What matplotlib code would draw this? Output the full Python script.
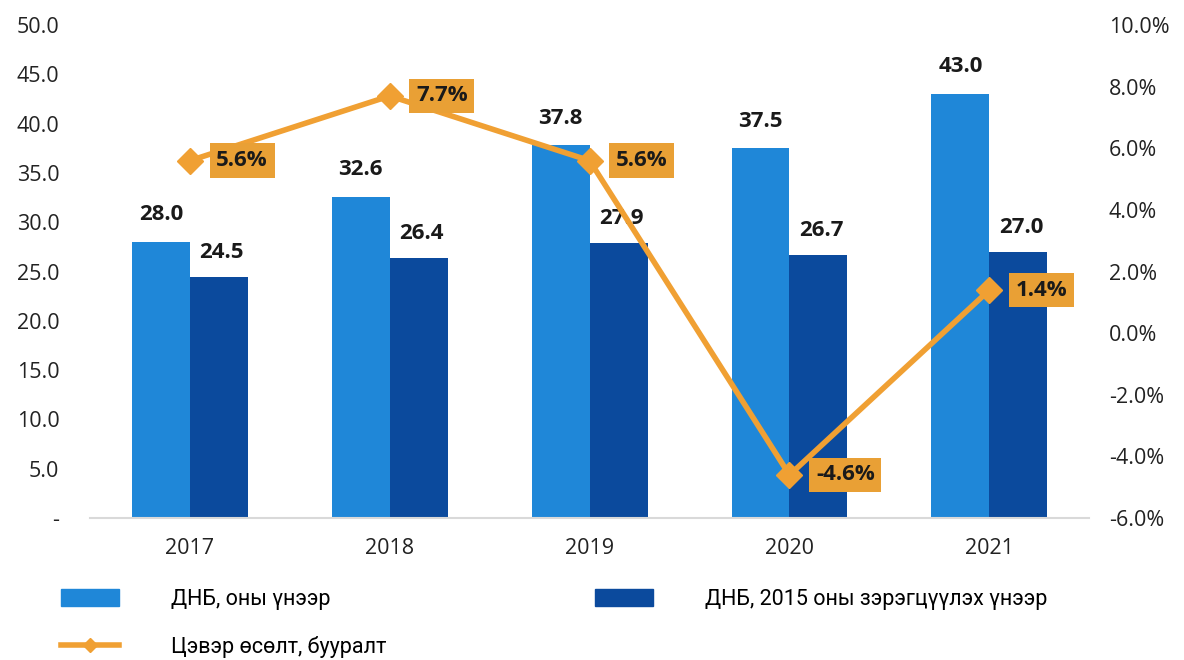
import matplotlib
matplotlib.use("Agg")
import matplotlib.pyplot as plt
from matplotlib.patches import Patch
from matplotlib.lines import Line2D
import numpy as np

years = ["2017", "2018", "2019", "2020", "2021"]
gdp_nominal = [28.0, 32.6, 37.8, 37.5, 43.0]
gdp_real = [24.5, 26.4, 27.9, 26.7, 27.0]
growth = [5.6, 7.7, 5.6, -4.6, 1.4]

light_blue = "#1f87d8"
dark_blue = "#0b4a9d"
orange = "#f0a033"
box_orange = "#e9a035"

plt.rcParams['font.family'] = ['Open Sans', 'DejaVu Sans']

fig = plt.figure(figsize=(11.84, 6.6), dpi=100)
ax = fig.add_axes([0.076, 0.215, 0.844, 0.747])
ax2 = ax.twinx()

x = np.arange(len(years))
w = 0.29
ax.bar(x - w / 2, gdp_nominal, w, color=light_blue, zorder=2)
ax.bar(x + w / 2, gdp_real, w, color=dark_blue, zorder=2)

for xi, v in zip(x, gdp_nominal):
    ax.annotate(f"{v:.1f}", (xi - w / 2, v), xytext=(0, 12), textcoords="offset points",
                ha="center", va="bottom", fontsize=16, fontweight="bold", color="#1a1a1a")
for xi, v in zip(x, gdp_real):
    ax.annotate(f"{v:.1f}", (xi + w / 2, v), xytext=(2, 10), textcoords="offset points",
                ha="center", va="bottom", fontsize=16, fontweight="bold", color="#1a1a1a")

ax.set_ylim(0, 50)
ax.set_yticks(np.arange(0, 51, 5))
ax.set_yticklabels(["-"] + [f"{v:.1f}" for v in np.arange(5, 51, 5)])
ax.set_xlim(-0.5, 4.5)
ax.set_xticks(x)
ax.set_xticklabels(years)
ax.tick_params(axis="both", length=0, labelsize=15.5, colors="#222222")
ax.tick_params(axis="x", pad=14)
ax.tick_params(axis="y", pad=22)
for s in ["top", "right", "left"]:
    ax.spines[s].set_visible(False)
ax.spines["bottom"].set_color("#d9d9d9")
ax.spines["bottom"].set_linewidth(1.5)

ax2.plot(x, growth, color=orange, lw=4, marker="D", markersize=13, zorder=5)
ax2.set_ylim(-6, 10)
ax2.set_yticks(np.arange(-6, 11, 2))
ax2.set_yticklabels([f"{v:.1f}%" for v in np.arange(-6, 11, 2)])
ax2.tick_params(axis="y", length=0, labelsize=15.5, colors="#222222", pad=14)
for s in ax2.spines.values():
    s.set_visible(False)

for xi, v in zip(x, growth):
    ax2.annotate(f"{v:.1f}%", (xi, v), xytext=(19, 0), textcoords="offset points",
                 ha="left", va="center", fontsize=16, fontweight="bold", color="#1a1a1a",
                 bbox=dict(boxstyle="square,pad=0.3", fc=box_orange, ec="none"), zorder=6)

handles = [Patch(color=light_blue),
           Line2D([0], [0], color=orange, lw=4, marker="D", markersize=7),
           Patch(color=dark_blue)]
labels = ["ДНБ, оны үнээр", "Цэвэр өсөлт, бууралт", "ДНБ, 2015 оны зэрэгцүүлэх үнээр"]
fig.legend(handles, labels, ncol=2, loc="lower left", bbox_to_anchor=(0.035, -0.026),
           frameon=False, handlelength=2.7, handleheight=0.8,
           handletextpad=2.4, columnspacing=9.7, labelspacing=1.2,
           prop={"family": ["Roboto", "DejaVu Sans"], "size": 15.5})

fig.savefig("out.png", dpi=100)
